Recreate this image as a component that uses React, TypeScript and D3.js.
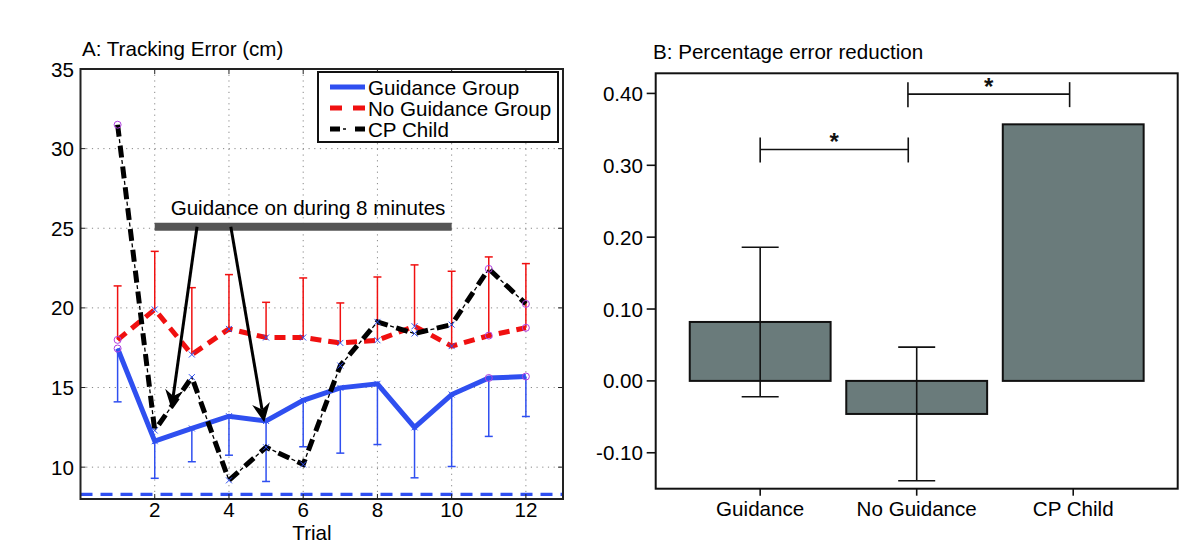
import React from 'react';
import * as d3 from 'd3';

// ---------- Panel A data ----------
const trials = [1, 2, 3, 4, 5, 6, 7, 8, 9, 10, 11, 12];
const guidanceMean = [17.45, 11.63, 12.43, 13.2, 12.9, 14.2, 14.98, 15.23, 12.5, 14.56, 15.6, 15.69];
const guidanceLower = [14.1, 9.3, 10.34, 10.75, 9.1, 11.28, 10.88, 11.42, 9.33, 10.04, 11.93, 13.18];
const noGuidanceMean = [17.99, 19.9, 17.07, 18.68, 18.14, 18.14, 17.8, 17.97, 18.85, 17.6, 18.26, 18.75];
const noGuidanceUpper = [21.38, 23.55, 21.27, 22.09, 20.35, 21.88, 20.31, 21.94, 22.7, 22.3, 23.2, 22.78];
const cpChild = [31.5, 12.3, 15.65, 9.17, 11.25, 10.17, 16.38, 19.12, 18.39, 18.95, 22.45, 20.25];
const trialMarkers = ['o', 'x', 'x', 'x', 'x', 'x', 'x', 'x', 'x', 'x', 'o', 'o'];
const baselineLevel = [8.29];
const xTicksA = [2, 4, 6, 8, 10, 12];
const yTicksA = [10, 15, 20, 25, 30, 35];
const guidanceSpan = [2, 10];
const guidanceSpanLevel = 25.1;
const guidanceLabel = 'Guidance on during 8 minutes';
// arrows: [x, y] in data units
const arrowTails = [[3.14, 25.1], [4.05, 25.1]];
const arrowTips = [[2.45, 13.66], [4.95, 12.82]];
const legendLabels = ['Guidance Group', 'No Guidance Group', 'CP Child'];

// ---------- Panel B data ----------
const categories = ['Guidance', 'No Guidance', 'CP Child'];
const reductionMean = [0.082, -0.046, 0.357];
const reductionLower = [-0.022, -0.139, null];
const reductionUpper = [0.186, 0.047, null];
const yTicksB = [-0.1, 0, 0.1, 0.2, 0.3, 0.4];
// significance brackets in category-index units
const bracketFrom = [0, 0.944];
const bracketTo = [0.946, 1.977];
const bracketLevel = [0.322, 0.399];

const FONT = 'Liberation Sans, Arial, Helvetica, sans-serif';
const FS = 20.6;
const BLUE = '#2f4ff0';
const RED = '#f01010';
const MAGENTA = '#b040e0';
const BAR = '#6a7b7b';

function arrowHead(x1: number, y1: number, x2: number, y2: number) {
  const dx = x2 - x1, dy = y2 - y1;
  const len = Math.sqrt(dx * dx + dy * dy);
  const ux = dx / len, uy = dy / len;
  const nx = -uy, ny = ux;
  const L = 19, W = 9, notch = 6;
  const bx = x2 - ux * L, by = y2 - uy * L;
  const pts = [
    [x2, y2],
    [bx + nx * W, by + ny * W],
    [x2 - ux * (L - notch), y2 - uy * (L - notch)],
    [bx - nx * W, by - ny * W],
  ];
  return { poly: pts.map(p => p.join(',')).join(' '), endX: x2 - ux * (L - notch), endY: y2 - uy * (L - notch) };
}

function PanelA() {
  const left = 80.5, right = 563, top = 69, bottom = 499;
  const x = d3.scaleLinear().domain([0, 13]).range([left, right]);
  const y = d3.scaleLinear().domain([8, 35]).range([bottom, top]);
  const line = d3.line<number>().x((_, i) => x(trials[i])).y(d => y(d));
  const cap = 4;
  const tickLen = 5;

  const cpPath = line(cpChild) || '';

  return (
    <g fontFamily={FONT}>
      <text x={82} y={56} fontSize={FS} fill="#000">A: Tracking Error (cm)</text>
      {/* grid */}
      {xTicksA.map(t => (
        <line key={'gx' + t} x1={x(t)} x2={x(t)} y1={top} y2={bottom} stroke="#888" strokeWidth={1} strokeDasharray="1.2,4.5" />
      ))}
      {yTicksA.map(t => (
        <line key={'gy' + t} x1={left} x2={right} y1={y(t)} y2={y(t)} stroke="#888" strokeWidth={1} strokeDasharray="1.2,4.5" />
      ))}
      {/* baseline dashed */}
      {baselineLevel.map((b, i) => (
        <line key={'bl' + i} x1={left} x2={right} y1={y(b)} y2={y(b)} stroke={BLUE} strokeWidth={3.2} strokeDasharray="12,8" />
      ))}
      {/* error bars */}
      {trials.map((t, i) => (
        <g key={'eb' + t}>
          <line x1={x(t)} x2={x(t)} y1={y(guidanceMean[i])} y2={y(guidanceLower[i])} stroke={BLUE} strokeWidth={1.5} />
          <line x1={x(t) - cap} x2={x(t) + cap} y1={y(guidanceLower[i])} y2={y(guidanceLower[i])} stroke={BLUE} strokeWidth={1.5} />
          <line x1={x(t)} x2={x(t)} y1={y(noGuidanceMean[i])} y2={y(noGuidanceUpper[i])} stroke={RED} strokeWidth={1.5} />
          <line x1={x(t) - cap} x2={x(t) + cap} y1={y(noGuidanceUpper[i])} y2={y(noGuidanceUpper[i])} stroke={RED} strokeWidth={1.5} />
        </g>
      ))}
      {/* lines */}
      <path d={line(noGuidanceMean) || ''} fill="none" stroke={RED} strokeWidth={5} strokeDasharray="11,7" />
      <path d={line(guidanceMean) || ''} fill="none" stroke={BLUE} strokeWidth={5} strokeLinejoin="miter" />
      <path d={cpPath} fill="none" stroke="#000" strokeWidth={5} strokeDasharray="12,9" />
      <path d={cpPath} fill="none" stroke="#000" strokeWidth={1.3} strokeDasharray="4,17" strokeDashoffset={-14.5} />
      {/* markers */}
      {[guidanceMean, noGuidanceMean, cpChild].map((series, si) =>
        series.map((v, i) => {
          const cx = x(trials[i]), cy = y(v);
          return trialMarkers[i] === 'o' ? (
            <circle key={'m' + si + i} cx={cx} cy={cy} r={3.5} fill="none" stroke={MAGENTA} strokeWidth={1} />
          ) : (
            <path key={'m' + si + i} d={`M${cx - 3},${cy - 3}L${cx + 3},${cy + 3}M${cx - 3},${cy + 3}L${cx + 3},${cy - 3}`} stroke={BLUE} strokeWidth={1} />
          );
        })
      )}
      {/* guidance period bar */}
      <line x1={x(guidanceSpan[0])} x2={x(guidanceSpan[1])} y1={y(guidanceSpanLevel)} y2={y(guidanceSpanLevel)} stroke="#555" strokeWidth={8} />
      <text x={x(6.13)} y={215} fontSize={FS} textAnchor="middle" fill="#000">{guidanceLabel}</text>
      {arrowTails.map((tl, i) => {
        const x1 = x(tl[0]), y1 = y(tl[1]), x2 = x(arrowTips[i][0]), y2 = y(arrowTips[i][1]);
        const h = arrowHead(x1, y1, x2, y2);
        return (
          <g key={'ar' + i}>
            <line x1={x1} y1={y1} x2={h.endX} y2={h.endY} stroke="#000" strokeWidth={3} />
            <polygon points={h.poly} fill="#000" />
          </g>
        );
      })}
      {/* frame */}
      <rect x={left} y={top} width={right - left} height={bottom - top} fill="none" stroke="#222" strokeWidth={2} />
      {xTicksA.map(t => (
        <g key={'xt' + t}>
          <line x1={x(t)} x2={x(t)} y1={bottom} y2={bottom - tickLen} stroke="#222" strokeWidth={1} />
          <line x1={x(t)} x2={x(t)} y1={top} y2={top + tickLen} stroke="#222" strokeWidth={1} />
          <text x={x(t)} y={517} fontSize={FS} textAnchor="middle" fill="#000">{t}</text>
        </g>
      ))}
      {yTicksA.map(t => (
        <g key={'yt' + t}>
          <line x1={left} x2={left + tickLen} y1={y(t)} y2={y(t)} stroke="#222" strokeWidth={1} />
          <line x1={right} x2={right - tickLen} y1={y(t)} y2={y(t)} stroke="#222" strokeWidth={1} />
          <text x={74} y={y(t) + 7.5} fontSize={FS} textAnchor="end" fill="#000">{t}</text>
        </g>
      ))}
      <text x={312} y={540} fontSize={FS} textAnchor="middle" fill="#000">Trial</text>
      {/* legend */}
      <g>
        <rect x={318} y={72} width={240} height={70} fill="#fff" stroke="#111" strokeWidth={2} />
        {legendLabels.map((lab, i) => {
          const ly = 87 + i * 21;
          return (
            <g key={'lg' + i}>
              {i === 0 && <line x1={330} x2={365} y1={ly} y2={ly} stroke={BLUE} strokeWidth={5} />}
              {i === 1 && <line x1={330} x2={365} y1={ly} y2={ly} stroke={RED} strokeWidth={5} strokeDasharray="12,11" />}
              {i === 2 && (
                <g>
                  <line x1={330} x2={365} y1={ly} y2={ly} stroke="#000" strokeWidth={5} strokeDasharray="10,15" />
                  <line x1={330} x2={365} y1={ly} y2={ly} stroke="#000" strokeWidth={1.3} strokeDasharray="0,13,3,19" />
                </g>
              )}
              <text x={368} y={ly + 7.5} fontSize={FS} fill="#000">{lab}</text>
            </g>
          );
        })}
      </g>
    </g>
  );
}

function PanelB() {
  const left = 655.7, right = 1177.7, top = 73.3, bottom = 488.7;
  const x = d3.scaleBand<string>().domain(categories).range([left, right]).paddingInner(0.1).paddingOuter(0.2175);
  const y = d3.scaleLinear().domain([-0.15, 0.428]).range([bottom, top]);
  const cx = (c: string) => (x(c) || 0) + x.bandwidth() / 2;
  const step = x.step();
  const idxX = (v: number) => cx(categories[0]) + v * step;
  const fmt = (v: number) => d3.format('.2f')(v).replace('\u2212', '-');
  const capW = 18.5;
  return (
    <g fontFamily={FONT}>
      <text x={653} y={59} fontSize={FS} fill="#000">B: Percentage error reduction</text>
      {categories.map((c, i) => {
        const v = reductionMean[i];
        const y0 = y(Math.max(0, v)), y1 = y(Math.min(0, v));
        return (
          <rect key={'bar' + c} x={x(c)} y={y0} width={x.bandwidth()} height={y1 - y0} fill={BAR} stroke="#111" strokeWidth={2} />
        );
      })}
      {categories.map((c, i) => {
        const lo = reductionLower[i], hi = reductionUpper[i];
        if (lo === null || hi === null) return null;
        const px = cx(c);
        return (
          <g key={'err' + c} stroke="#111" strokeWidth={1.6}>
            <line x1={px} x2={px} y1={y(lo)} y2={y(hi)} />
            <line x1={px - capW} x2={px + capW} y1={y(lo)} y2={y(lo)} />
            <line x1={px - capW} x2={px + capW} y1={y(hi)} y2={y(hi)} />
          </g>
        );
      })}
      {bracketFrom.map((f, i) => {
        const x1 = idxX(f), x2 = idxX(bracketTo[i]), by = y(bracketLevel[i]);
        return (
          <g key={'br' + i}>
            <g stroke="#111" strokeWidth={1.6}>
              <line x1={x1} x2={x2} y1={by} y2={by} />
              <line x1={x1} x2={x1} y1={by - 12} y2={by + 13} />
              <line x1={x2} x2={x2} y1={by - 12} y2={by + 13} />
            </g>
            <text x={(x1 + x2) / 2} y={by + 1} fontSize={24} textAnchor="middle" fontWeight="bold" fill="#111">*</text>
          </g>
        );
      })}
      <rect x={left} y={top} width={right - left} height={bottom - top} fill="none" stroke="#111" strokeWidth={2} />
      {yTicksB.map(t => (
        <g key={'ytb' + t}>
          <line x1={left - 9} x2={left} y1={y(t)} y2={y(t)} stroke="#111" strokeWidth={1.6} />
          <text x={643} y={y(t) + 7.5} fontSize={FS} textAnchor="end" fill="#000">{fmt(t)}</text>
        </g>
      ))}
      {categories.map(c => (
        <g key={'xtb' + c}>
          <line x1={cx(c)} x2={cx(c)} y1={bottom} y2={bottom + 7} stroke="#111" strokeWidth={1.6} />
          <text x={cx(c)} y={516} fontSize={FS} textAnchor="middle" fill="#000">{c}</text>
        </g>
      ))}
    </g>
  );
}

export default function App() {
  return (
    <svg width={1200} height={558} style={{ position: 'absolute', left: 0, top: 0, background: '#fff' }}>
      <rect x={0} y={0} width={1200} height={558} fill="#fff" />
      <PanelA />
      <PanelB />
    </svg>
  );
}
